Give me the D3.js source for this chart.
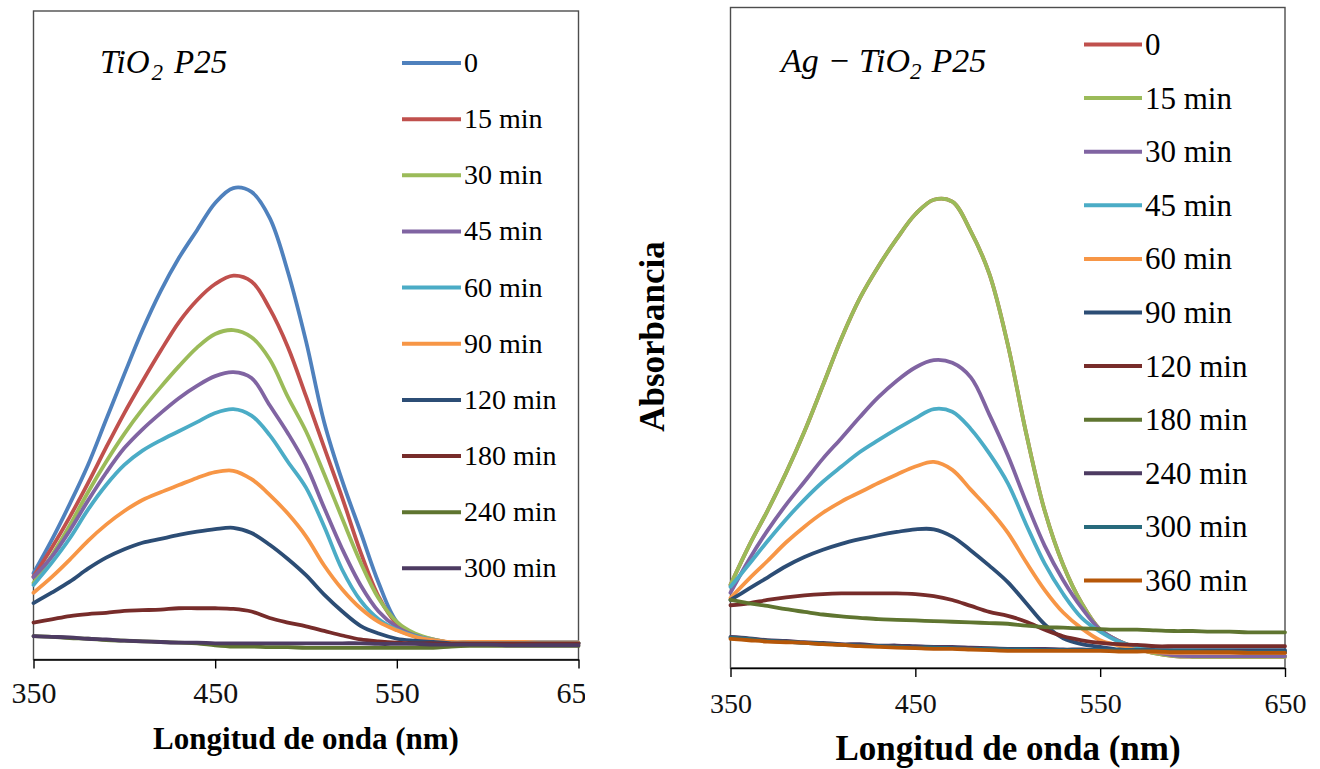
<!DOCTYPE html>
<html>
<head>
<meta charset="utf-8">
<script src="https://cdn.jsdelivr.net/npm/d3@7"></script>
<style>
  html, body { margin: 0; padding: 0; background: #fff; }
  svg { display: block; }
</style>
</head>
<body>
<svg id="chart" width="1320" height="769"></svg>
<script>
// Wavelength grid (nm)
const wavelengths = [350,360,370,380,390,400,410,420,430,440,450,460,470,480,490,500,
                     510,520,530,540,550,560,570,580,590,600,610,620,630,640,650];
const tickValues = [350, 450, 550, 650];

// ---- TiO2 P25 spectra (absorbance) ----
const tio2Labels = ["0","15 min","30 min","45 min","60 min","90 min","120 min","180 min","240 min","300 min"];
const tio2Colors = ["#4F81BD","#C0504D","#9BBB59","#8064A2","#4BACC6","#F79646","#2C4D75","#772C2A","#5F7530","#4D3B62"];
const tio2_0   = [.133,.184,.240,.300,.370,.440,.508,.568,.619,.662,.704,.727,.721,.681,.598,.491,.366,.275,.197,.118,.058,.036,.029,.026,.026,.026,.026,.026,.026,.026,.026];
const tio2_15  = [.128,.172,.220,.272,.327,.380,.429,.476,.520,.554,.579,.592,.583,.541,.482,.406,.327,.249,.166,.097,.055,.037,.031,.026,.026,.026,.026,.026,.026,.026,.026];
const tio2_30  = [.118,.160,.207,.258,.305,.348,.386,.420,.452,.481,.502,.508,.497,.463,.405,.352,.286,.217,.150,.094,.058,.040,.031,.026,.026,.026,.026,.026,.026,.026,.026];
const tio2_45  = [.127,.158,.199,.245,.288,.326,.355,.380,.403,.422,.437,.443,.434,.392,.349,.300,.234,.170,.115,.074,.050,.037,.030,.026,.026,.026,.026,.026,.026,.026,.026];
const tio2_60  = [.115,.149,.187,.231,.269,.300,.322,.338,.352,.366,.380,.386,.376,.346,.305,.265,.205,.138,.091,.062,.046,.036,.030,.026,.026,.026,.026,.026,.026,.026,.026];
const tio2_90  = [.103,.127,.154,.183,.208,.229,.246,.258,.269,.280,.289,.291,.278,.254,.225,.190,.145,.108,.079,.058,.045,.035,.030,.027,.027,.027,.027,.027,.026,.026,.026];
const tio2_120 = [.087,.103,.120,.140,.157,.170,.180,.186,.192,.197,.201,.203,.195,.177,.155,.130,.100,.074,.052,.040,.032,.029,.027,.025,.025,.025,.025,.025,.025,.025,.025];
const tio2_180 = [.057,.062,.067,.070,.072,.075,.076,.077,.079,.079,.079,.078,.074,.064,.057,.051,.044,.037,.031,.028,.026,.025,.025,.024,.024,.024,.024,.024,.024,.024,.024];
const tio2_240 = [.036,.035,.033,.032,.030,.029,.028,.027,.026,.025,.022,.020,.020,.019,.019,.018,.018,.018,.018,.018,.018,.018,.018,.020,.021,.021,.021,.021,.021,.021,.021];
const tio2_300 = [.036,.035,.034,.032,.031,.029,.028,.027,.026,.026,.025,.025,.025,.025,.025,.025,.025,.025,.025,.024,.024,.024,.023,.023,.023,.023,.022,.022,.022,.022,.022];

// ---- Ag-TiO2 P25 spectra (absorbance) ----
const agLabels = ["0","15 min","30 min","45 min","60 min","90 min","120 min","180 min","240 min","300 min","360 min"];
const agColors = ["#C0504D","#9BBB59","#8064A2","#4BACC6","#F79646","#2C4D75","#772C2A","#5F7530","#4D3B62","#276A7C","#B65708"];
const ag_0   = [.126,.185,.238,.295,.358,.428,.499,.560,.608,.650,.687,.709,.706,.661,.597,.490,.355,.238,.156,.098,.058,.041,.030,.022,.018,.017,.017,.017,.017,.017,.017];
const ag_15  = [.126,.185,.238,.295,.358,.428,.499,.560,.608,.650,.687,.709,.706,.661,.597,.490,.355,.238,.156,.098,.058,.041,.030,.022,.018,.017,.017,.017,.017,.017,.017];
const ag_30  = [.114,.164,.208,.247,.282,.317,.348,.380,.410,.435,.455,.466,.462,.440,.384,.322,.251,.185,.133,.091,.058,.041,.030,.024,.019,.018,.018,.018,.018,.018,.018];
const ag_45  = [.123,.157,.192,.225,.255,.282,.305,.327,.345,.362,.378,.392,.388,.362,.325,.280,.217,.158,.112,.076,.055,.040,.032,.027,.026,.026,.026,.026,.026,.026,.026];
const ag_60  = [.106,.135,.162,.190,.214,.235,.252,.266,.280,.293,.305,.312,.300,.270,.240,.205,.160,.118,.084,.060,.042,.034,.027,.024,.023,.023,.023,.023,.023,.023,.023];
const ag_90  = [.103,.120,.137,.154,.168,.179,.188,.195,.201,.206,.210,.210,.199,.178,.155,.130,.098,.066,.045,.036,.032,.028,.027,.027,.027,.027,.027,.027,.027,.027,.027];
const ag_120 = [.095,.098,.103,.107,.110,.112,.113,.113,.113,.113,.112,.109,.103,.094,.085,.079,.070,.058,.048,.042,.038,.036,.035,.033,.033,.033,.033,.033,.033,.033,.033];
const ag_180 = [.103,.098,.094,.089,.085,.081,.078,.076,.074,.073,.072,.071,.070,.069,.068,.067,.064,.062,.061,.060,.059,.058,.058,.057,.056,.056,.055,.055,.054,.054,.054];
const ag_240 = [.047,.045,.042,.041,.039,.038,.036,.036,.034,.034,.033,.032,.032,.031,.030,.029,.029,.029,.028,.028,.027,.027,.027,.026,.026,.026,.025,.025,.025,.024,.024];
const ag_300 = [.046,.044,.041,.040,.038,.037,.035,.034,.033,.032,.031,.031,.030,.029,.029,.028,.028,.027,.027,.027,.027,.027,.027,.026,.026,.026,.025,.025,.024,.024,.024];
const ag_360 = [.044,.042,.040,.039,.038,.036,.035,.033,.032,.031,.030,.029,.029,.028,.027,.026,.026,.026,.026,.026,.026,.025,.025,.025,.024,.024,.024,.024,.023,.023,.023];

const tio2Series = [tio2_0, tio2_15, tio2_30, tio2_45, tio2_60, tio2_90, tio2_120, tio2_180, tio2_240, tio2_300];
const agSeries = [ag_0, ag_15, ag_30, ag_45, ag_60, ag_90, ag_120, ag_180, ag_240, ag_300, ag_360];

const svg = d3.select("#chart");
svg.append("rect").attr("width", 1320).attr("height", 769).attr("fill", "#fff");

const SERIF = '"Liberation Serif", "Times New Roman", serif';

function drawPanel(opts) {
  const g = svg.append("g");
  if (opts.clipRight) {
    svg.append("defs").append("clipPath").attr("id", opts.id + "-clip")
      .append("rect").attr("x", 0).attr("y", 0).attr("width", opts.clipRight).attr("height", 769);
    g.attr("clip-path", `url(#${opts.id}-clip)`);
  }
  const x = d3.scaleLinear().domain([350, 650]).range([opts.left, opts.right]);
  const y = d3.scaleLinear().domain([0, 1]).range([opts.bottom, opts.top]);

  // plot frame
  g.append("rect")
    .attr("x", opts.left).attr("y", opts.top)
    .attr("width", opts.right - opts.left).attr("height", opts.bottom - opts.top)
    .attr("fill", "none").attr("stroke", "#4d4d4d").attr("stroke-width", 1.4);

  // spectra
  const line = d3.line()
    .x((d, i) => x(wavelengths[i]))
    .y(d => y(d))
    .curve(d3.curveCatmullRom.alpha(0.5));
  g.append("g").selectAll("path")
    .data(opts.series)
    .join("path")
    .attr("d", d => line(d))
    .attr("fill", "none")
    .attr("stroke", (d, i) => opts.colors[i])
    .attr("stroke-width", 3.8)
    .attr("stroke-linejoin", "round")
    .attr("stroke-linecap", "round");

  // x axis
  const axis = d3.axisBottom(x).tickValues(tickValues).tickFormat(d3.format("d"))
    .tickSize(9).tickSizeOuter(0).tickPadding(opts.tickPad);
  const ax = g.append("g").attr("transform", `translate(0,${opts.bottom})`).call(axis);
  ax.attr("font-family", null).attr("font-size", null);
  ax.select(".domain").attr("stroke", "#000").attr("stroke-width", 1.4);
  ax.selectAll(".tick line").attr("stroke", "#000").attr("stroke-width", 1.4);
  ax.selectAll(".tick text")
    .attr("fill", "#111")
    .style("font-family", SERIF)
    .style("font-size", opts.tickFont + "px");

  // x axis title
  g.append("text")
    .attr("x", opts.xTitleX).attr("y", opts.xTitleY)
    .attr("text-anchor", "middle")
    .style("font-family", SERIF).style("font-weight", "bold")
    .style("font-size", opts.xTitleFont + "px")
    .attr("fill", "#000")
    .text("Longitud de onda (nm)");

  // legend
  const leg = g.append("g");
  opts.labels.forEach((lab, i) => {
    const base = opts.legTop + i * opts.legStep;
    leg.append("line")
      .attr("x1", opts.legX1).attr("x2", opts.legX2)
      .attr("y1", base - opts.legLineOff).attr("y2", base - opts.legLineOff)
      .attr("stroke", opts.colors[i]).attr("stroke-width", 4);
    leg.append("text")
      .attr("x", opts.legX2 + 3).attr("y", base)
      .style("font-family", SERIF).style("font-size", opts.legFont + "px")
      .attr("fill", "#000")
      .text(lab);
  });
  return g;
}

// Left panel: TiO2 P25
const left = drawPanel({
  id: "tio2", left: 33.5, right: 578.5, top: 11, bottom: 659.5, clipRight: 585,
  series: tio2Series, colors: tio2Colors, labels: tio2Labels,
  tickPad: 13, tickFont: 30,
  xTitleX: 306, xTitleY: 749, xTitleFont: 31,
  legX1: 402, legX2: 461, legTop: 72, legStep: 56.15, legLineOff: 9, legFont: 28
});

// Right panel: Ag-TiO2 P25
const right = drawPanel({
  id: "ag", left: 730.5, right: 1285, top: 7.5, bottom: 668,
  series: agSeries, colors: agColors, labels: agLabels,
  tickPad: 16, tickFont: 28,
  xTitleX: 1008, xTitleY: 760, xTitleFont: 35,
  legX1: 1084, legX2: 1142, legTop: 55, legStep: 53.6, legLineOff: 10.5, legFont: 31
});

// Panel titles (math italic)
const t1 = left.append("text").attr("x", 100).attr("y", 73)
  .style("font-family", SERIF).style("font-style", "italic").style("font-size", "33px").attr("fill", "#000");
t1.append("tspan").text("TiO");
t1.append("tspan").attr("dx", 2).attr("dy", 7).style("font-size", "23px").text("2");
t1.append("tspan").attr("dy", -7).attr("dx", 11).text("P25");

const t2 = right.append("text").attr("x", 781).attr("y", 72)
  .style("font-family", SERIF).style("font-style", "italic").style("font-size", "34px").attr("fill", "#000");
t2.append("tspan").text("Ag");
t2.append("tspan").attr("dx", 11).style("font-style", "normal").text("\u2212");
t2.append("tspan").attr("dx", 10).text("TiO");
t2.append("tspan").attr("dy", 7).style("font-size", "23px").text("2");
t2.append("tspan").attr("dy", -7).attr("dx", 10).text("P25");

// Y axis title
svg.append("text")
  .attr("transform", "translate(664,336.5) rotate(-90)")
  .attr("text-anchor", "middle")
  .style("font-family", SERIF).style("font-weight", "bold").style("font-size", "35px")
  .attr("fill", "#000")
  .text("Absorbancia");
</script>
</body>
</html>
